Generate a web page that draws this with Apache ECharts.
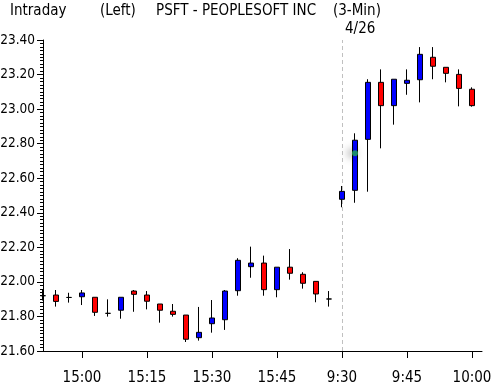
<!DOCTYPE html>
<html>
<head>
<meta charset="utf-8">
<script src="https://cdn.jsdelivr.net/npm/echarts@6/dist/echarts.min.js"></script>
<style>
html,body{margin:0;padding:0;background:#fff;}
#chart{width:491px;height:387px;}
</style>
</head>
<body>
<div id="chart"></div>
<script>
// 3-minute bars: 4/23 14:51 .. 15:57, then 4/26 9:30 .. 10:00
var times = ['14:51','14:54','14:57','15:00','15:03','15:06','15:09','15:12','15:15','15:18','15:21','15:24','15:27','15:30','15:33','15:36','15:39','15:42','15:45','15:48','15:51','15:54','15:57',
             '9:30','9:33','9:36','9:39','9:42','9:45','9:48','9:51','9:54','9:57','10:00'];
var opens  = [21.92,21.924,21.91,21.914,21.911,21.818,21.836,21.947,21.924,21.872,21.830,21.808,21.677,21.758,21.781,21.949,22.088,22.109,21.955,22.085,22.044,22.003,21.901,
              22.478,22.530,22.825,23.155,23.020,23.149,23.170,23.300,23.242,23.201,23.115];
var closes = [21.92,21.887,21.91,21.936,21.824,21.818,21.911,21.928,21.888,21.836,21.812,21.668,21.708,21.791,21.947,22.125,22.109,21.955,22.085,22.050,21.992,21.930,21.901,
              22.524,22.820,23.155,23.020,23.173,23.167,23.317,23.248,23.207,23.120,23.020];
var lows   = [21.892,21.857,21.880,21.866,21.803,21.799,21.787,21.827,21.841,21.764,21.799,21.652,21.660,21.706,21.722,21.920,22.024,21.920,21.911,22.013,21.961,21.882,21.857,
              22.432,22.458,22.522,22.773,22.910,23.083,23.039,23.173,23.155,23.016,23.014];
var highs  = [21.953,21.953,21.937,21.953,21.911,21.899,21.911,21.953,21.947,21.872,21.872,21.808,21.855,21.895,21.953,22.137,22.204,22.152,22.085,22.190,22.056,22.003,21.947,
              22.555,22.860,23.173,23.230,23.173,23.230,23.359,23.359,23.242,23.230,23.126];
var xTickLabels = ['15:00','15:15','15:30','15:45','9:30','9:45','10:00'];
var dayBreakLabel = '4/26';
var dayBreakTime = '9:30';
var cursorPoint = [['9:33', 22.745]];

var FONT = '"DejaVu Sans Condensed","DejaVu Sans",sans-serif';
var firstFull = times.indexOf('15:00');
function xIdx(t){ return times.indexOf(t) - firstFull; }

var candleData = times.map(function(t,i){ return [xIdx(t), opens[i], closes[i], lows[i], highs[i]]; });
var tickIdx = xTickLabels.map(function(t){ return xIdx(t); });

var chart = echarts.init(document.getElementById('chart'), null, {renderer:'canvas'});
chart.setOption({
  animation:false,
  backgroundColor:'#fff',
  grid:{left:43, right:9, top:40, bottom:36, containLabel:false, outerBoundsMode:'none'},
  xAxis:{
    type:'value',
    min:-3, max:30.77,
    axisLine:{show:true, onZero:false, lineStyle:{color:'#000', width:1}},
    axisTick:{show:true, length:7, lineStyle:{color:'#000'}, customValues:tickIdx},
    axisLabel:{show:true, customValues:tickIdx, margin:20, color:'#000', fontFamily:FONT, fontSize:15,
      formatter:function(v){ var k = tickIdx.indexOf(v); return k>=0 ? xTickLabels[k] : ''; }},
    splitLine:{show:false}
  },
  yAxis:{
    type:'value',
    min:21.6, max:23.4, interval:0.2,
    axisLine:{show:true, onZero:false, lineStyle:{color:'#000', width:1}},
    axisTick:{show:true, length:6, lineStyle:{color:'#000'}},
    minorTick:{show:true, splitNumber:10, length:3, lineStyle:{color:'#000'}},
    axisLabel:{margin:8, color:'#000', fontFamily:FONT, fontSize:13.5, formatter:function(v){return v.toFixed(2);}},
    splitLine:{show:false}
  },
  series:[{
    type:'candlestick',
    data:candleData,
    encode:{x:0, y:[1,2,3,4]},
    barWidth:5,
    clip:false,
    z:3,
    itemStyle:{color:'#0000ff', color0:'#ff0000', borderColor:'#000', borderColor0:'#000', borderWidth:1},
    markLine:{
      silent:true, symbol:'none', z:1,
      label:{show:false},
      lineStyle:{color:'#c0c0c0', type:[4,3], width:1},
      data:[{xAxis:xIdx(dayBreakTime)}]
    }
  },{
    type:'scatter',
    data:cursorPoint.map(function(p){ return [xIdx(p[0]), p[1]]; }),
    symbolSize:6,
    z:4,
    itemStyle:{color:'#22aa55', shadowBlur:8, shadowColor:'rgba(0,0,0,0.85)', shadowOffsetX:-3}
  }],
  graphic:[
    {type:'text', left:10, top:4, style:{text:'Intraday', font:'15px '+FONT, fill:'#000'}},
    {type:'text', left:100, top:4, style:{text:'(Left)', font:'15px '+FONT, fill:'#000'}},
    {type:'text', left:156, top:4, style:{text:'PSFT - PEOPLESOFT INC', font:'15px '+FONT, fill:'#000'}},
    {type:'text', left:333, top:4, style:{text:'(3-Min)', font:'15px '+FONT, fill:'#000'}},
    {type:'text', left:345, top:22, style:{text:dayBreakLabel, font:'15px '+FONT, fill:'#000'}}
  ]
});
</script>
</body>
</html>
